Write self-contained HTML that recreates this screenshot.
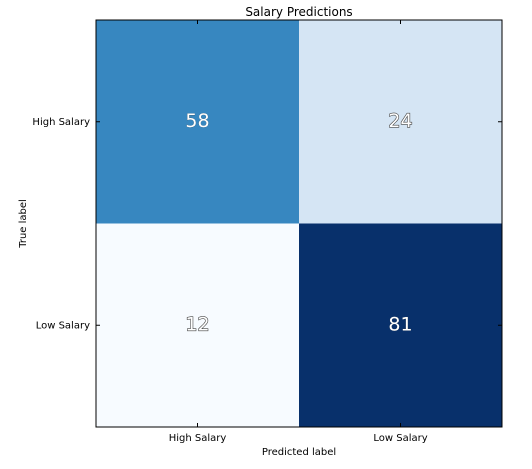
<!DOCTYPE html>
<html><head><meta charset="utf-8"><style>
body{margin:0;background:#fff;}
svg text{font-family:"DejaVu Sans","Liberation Sans",sans-serif;}
</style></head><body>
<svg id="chart" width="532" height="464" xmlns="http://www.w3.org/2000/svg"></svg>
<script>
const categories=["High Salary","Low Salary"];
const values=[[58,24],[12,81]];
const vmax=81, vmin=12;
const svg=document.getElementById('chart');
const NS="http://www.w3.org/2000/svg";
const L=96,T=20,W=406,H=407;
const cw=W/categories.length, ch=H/categories.length;
function xPos(i){return L+i*cw;}
function yPos(i){return T+i*ch;}
function mk(tag,attrs){const e=document.createElementNS(NS,tag);for(const k in attrs)e.setAttribute(k,attrs[k]);svg.appendChild(e);return e;}
const stops=[[0,[247,251,255]],[0.125,[222,235,247]],[0.25,[198,219,239]],[0.375,[158,202,225]],[0.5,[107,174,214]],[0.625,[66,146,198]],[0.75,[33,113,181]],[0.875,[8,81,156]],[1,[8,48,107]]];
function color(v){let t=(v-vmin)/(vmax-vmin);t=Math.max(0,Math.min(1,t));for(let i=0;i<stops.length-1;i++){const a=stops[i],b=stops[i+1];if(t<=b[0]){const f=(t-a[0])/(b[0]-a[0]);const c=a[1].map((x,j)=>Math.round(x+(b[1][j]-x)*f));return `rgb(${c})`;}}return 'rgb(8,48,107)';}
const title=mk('text',{x:L+W/2,y:16,'text-anchor':'middle','font-size':12,fill:'#000'});title.textContent='Salary Predictions';


for(let r=0;r<values.length;r++)for(let c=0;c<values[r].length;c++){
  const rect=mk('rect',{x:xPos(c),y:yPos(r),width:cw,height:ch,fill:color(values[r][c])});
  
  
  const t=mk('text',{x:xPos(c)+cw/2,y:yPos(r)+ch/2+5,'text-anchor':'middle','font-size':19,fill:'#fff',stroke:'#444','stroke-width':values[r][c]<40?1.2:0.3,'paint-order':'stroke'});
  t.textContent=values[r][c];
  
  
}
const frame=mk('rect',{x:L,y:T,width:W,height:H,fill:'none',stroke:'#000','stroke-width':1});


categories.forEach((cat,i)=>{
  const cx=xPos(i)+cw/2, cy=yPos(i)+ch/2;
  mk('line',{x1:cx,y1:T+H,x2:cx,y2:T+H-4,stroke:'#000'});
  mk('line',{x1:cx,y1:T,x2:cx,y2:T+4,stroke:'#000'});
  mk('line',{x1:L,y1:cy,x2:L+4,y2:cy,stroke:'#000'});
  mk('line',{x1:L+W,y1:cy,x2:L+W-4,y2:cy,stroke:'#000'});
  const xl=mk('text',{x:cx,y:T+H+14,'text-anchor':'middle','font-size':10,fill:'#000'});xl.textContent=cat;
  
  
  const yl=mk('text',{x:L-6,y:cy+3,'text-anchor':'end','font-size':10,fill:'#000'});yl.textContent=cat;
  
  
});
const xt=mk('text',{x:L+W/2,y:455,'text-anchor':'middle','font-size':10,fill:'#000'});xt.textContent='Predicted label';


const yt=mk('text',{x:0,y:0,'text-anchor':'middle','font-size':10,fill:'#000',transform:`translate(26,${T+H/2}) rotate(-90)`});yt.textContent='True label';


</script>
</body></html>
